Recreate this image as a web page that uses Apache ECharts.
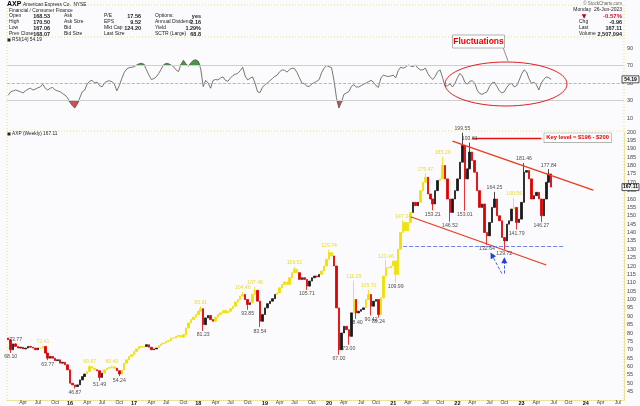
<!DOCTYPE html>
<html><head><meta charset="utf-8">
<script src="https://cdn.jsdelivr.net/npm/echarts/dist/echarts.min.js"></script>
<style>html,body{margin:0;padding:0;background:#fbfbfd}#c{width:640px;height:406px}</style>
</head><body><div id="c"></div>
<script>
// ---------- DATA (bi-weekly bars) ----------
const startDate = '2015-01-19';
const categoryCount = 250;
const monthNames = ['Jan','Feb','Mar','Apr','May','Jun','Jul','Aug','Sep','Oct','Nov','Dec'];
const close2015 = [76,70,73.5,72,71,71.5,70.5,71,72,71.5,71,70,71,71,72,68,65,66,65,63.5,64,62,62.5,61,58];
const close2016 = [50,49,48,49,52,54,55.5,57,60,59,58,57.5,53.5,56,58,59,59.5,59.8,59,57.5,55.5,58,62,64,66,67];
const close2017 = [69,70.5,72,71.5,72,73,71.5,70,70.5,71,72.5,73.5,74,75,75.5,77,77,78,78.5,77.5,79,83,86,88,89.5,91];
const close2018 = [93,94.5,85,89,90.5,88,87,89.5,91,92,93.5,92,93,94.5,96,98.5,100,102,103,100,97,98,103,105.5,99,87];
const close2019 = [91,95,97.5,99,100.5,103,104,107,109,110.5,109,113,116,118,116,112,113,112,108,111,113,114,113.5,115,117,120];
const close2020 = [124,128,126,120,95,70,80,84,82,78,92,100,92,93,94,95,100,103,96,99,100,91,101,114,119,119];
const close2021 = [120,123,115,130,140,146,141,146,152,158,156,158,165,170,173,163,160,157,165,171,172,180,172,160,152,160];
const close2022 = [165,172,182,192,172,178,188,183,176,165,155,157,140,138,146,155,160,150,147,137,135,145,147,154,155,146];
const close2023 = [148,158,176,177,172,160,162,164,160,150,160,170,175,167.11];
const firstOpen = 77;
// pivot labels: [bar index, price, High/Low]
const pivots = [
  [1,68.10,'L'],[3,73.77,'H'],[14,72.41,'H'],[16,63.77,'L'],[27,46.87,'L'],[33,60.67,'H'],[37,51.49,'L'],
  [42,60.40,'H'],[45,54.24,'L'],[78,95.91,'H'],[79,81.23,'L'],[95,104.46,'H'],[97,93.85,'L'],[100,107.46,'H'],
  [102,83.54,'L'],[116,119.52,'H'],[121,105.71,'L'],[130,129.74,'H'],[134,67.00,'L'],[138,73.00,'L'],
  [140,111.29,'H'],[141,88.40,'L'],[146,105.70,'H'],[147,90.42,'L'],[150,89.24,'L'],[153,123.46,'H'],
  [157,109.99,'L'],[160,147.34,'H'],[169,175.47,'H'],[172,153.21,'L'],[176,185.29,'H'],[179,146.52,'L'],
  [184,199.55,'H'],[185,153.01,'L'],[187,193.61,'H'],[194,132.64,'L'],[197,164.25,'H'],[201,129.72,'L'],
  [205,160.56,'H'],[206,141.79,'L'],[209,181.46,'H'],[216,146.27,'L'],[219,177.84,'H']
];
const rsi2015 = [36,40,41,42,41,40,38.6,41,43,44,42,43,44.5,45.5,48.5,44,42,44,45,42,41,40,38,36.3,33];
const rsi2016 = [28,24,21.4,26,33,40,42,49,52,53,50,51,47,45.5,50,52,52.5,51.5,49,41,47,55,62,66,67.5,68];
const rsi2017 = [68.6,70.5,72,72.5,71.5,65,59,54,55,57,61,66,71,72.5,72,70.5,68.6,65,63,71.5,76,72,69,73,76,76.5];
const rsi2018 = [75,66,46,53,50,44,53,54,53.5,55.7,57,53,52,55.5,58.5,60,61,64,68,58,53.5,55.5,57,50,40,39];
const rsi2019 = [45,48,50,52.5,55,57.5,59,63,65,64.5,62.5,65.5,67,66.5,62,56,50,49,46.5,46,49,50.5,52,54,62,67];
const rsi2020 = [70,68.6,67.5,53,33,21.4,28,37,38.6,40,46,48,45.5,45.4,47,48.5,50,51.5,53,51,47,45,55.7,59,58,57.5];
const rsi2021 = [58,59,56,64,68,67,68,70.5,69.5,68.6,70.5,67,65,65,67,61,57,54,57.5,63,65,56,46,47,49,45.5];
const rsi2022 = [49.5,56,61,58,51,48.5,52,52.5,50,42,38,37,38.6,40,46,50,51,46,41,38.6,40,45,48.5,49.5,45.5,47];
const rsi2023 = [53,60,65,62.6,55,49.5,51,48,42,50,54,57,56,54.19];
// annotations (bar index, price)
const upperChannel = [[180,194.6],[237,165.3]];
const lowerChannel = [[163,149.4],[218,120.6]];
const keyLevel = [[188,196.5],[216,196.5]];
const supportLine = [[160,131.9],[225,131.9]];
const arrowLines = [[[200,115.5],[196,126.5]],[[201,115.5],[201,123.5]]];
// bar ranges highlighted in yellow
const yellowRanges = [[13,14],[32,35],[39,43],[46,55],[61,78],[84,95],[99,100],[109,117],[127,131],[140,140],[145,146],[151,163],[167,169],[175,176],[205,205]];

// ---------- BUILD ----------
const FONT = '"Liberation Sans", Arial, sans-serif';
const YEL = '#f0e000', UP = '#1a1a1a', DN = '#e00000';
const categories = [];
const t0 = Date.parse(startDate + 'T00:00:00Z');
for (let k = 0; k < categoryCount; k++) categories.push(new Date(t0 + k * 14 * 86400000).toISOString().slice(0, 10));
const showTick = categories.map((c, i) => {
  const m = +c.slice(5, 7);
  if ((m - 1) % 3 !== 0 || i === 0) return false;
  return +categories[i - 1].slice(5, 7) !== m;
});
const closes = [].concat(close2015, close2016, close2017, close2018, close2019, close2020, close2021, close2022, close2023);
const rsi = [].concat(rsi2015, rsi2016, rsi2017, rsi2018, rsi2019, rsi2020, rsi2021, rsi2022, rsi2023);
const inYellow = k => yellowRanges.some(r => k >= r[0] && k <= r[1]);
const pivotMap = {}; pivots.forEach(p => pivotMap[p[0]] = p);
const candles = closes.map((c, k) => {
  const o = k === 0 ? firstOpen : closes[k - 1];
  let lo = Math.min(o, c), hi = Math.max(o, c);
  const p = pivotMap[k];
  if (p) { if (p[2] === 'H') hi = Math.max(hi, p[1]); else lo = Math.min(lo, p[1]); }
  const item = { value: [o, c, lo, hi] };
  if (inYellow(k)) item.itemStyle = { color: YEL, color0: YEL, borderColor: YEL, borderColor0: YEL };
  return item;
});
const pivotLabels = pivots.map(p => ({
  value: [p[0], p[1]],
  label: { position: p[2] === 'H' ? 'top' : 'bottom', color: (p[2] === 'H' && inYellow(p[0])) ? '#e6d400' : '#222' }
}));
const hiBase = rsi.map(() => 70), hiPart = rsi.map(v => Math.max(v, 70) - 70);
const loBase = rsi.map(v => Math.min(v, 30)), loPart = rsi.map(v => 30 - Math.min(v, 30));

const dotted = { color: '#ece070', type: 'dotted', width: 1 };
const pairLine = (pts, style, extra0, extra1) => [
  Object.assign({ coord: pts[0], lineStyle: style }, extra0 || {}),
  Object.assign({ coord: pts[1] }, extra1 || {})
];
const chStyle = { color: '#ee3a1a', width: 1.3, type: 'solid' };

const chart = echarts.init(document.getElementById('c'));
const option = {
  animation: false,
  backgroundColor: '#fbfbfd',
  textStyle: { fontFamily: FONT },
  grid: [
    { left: 7, right: 16, top: 132, bottom: 6, containLabel: false, outerBoundsMode: 'none' },
    { left: 7, right: 16, top: 48, height: 70, containLabel: false, outerBoundsMode: 'none' }
  ],
  xAxis: [
    { type: 'category', gridIndex: 0, data: categories, boundaryGap: true,
      axisLine: { show: true, lineStyle: dotted }, axisTick: { show: false }, splitLine: { show: false },
      axisLabel: { interval: (i) => showTick[i], margin: 0, fontSize: 5, color: '#444', fontFamily: FONT,
        formatter: (v) => { const m = +v.slice(5, 7); return m === 1 ? '{y|' + v.slice(2, 4) + '}' : monthNames[m - 1]; },
        rich: { y: { fontWeight: 'bold', color: '#111', fontSize: 5.5, fontFamily: FONT } } } },
    { type: 'category', gridIndex: 1, data: categories, boundaryGap: true, show: false }
  ],
  yAxis: [
    { type: 'value', gridIndex: 0, position: 'right', min: 40, max: 200, interval: 5, scale: false,
      axisLine: { show: true, lineStyle: dotted }, axisTick: { show: false }, splitLine: { show: false },
      axisLabel: { fontSize: 5.5, color: '#444', margin: 3, showMinLabel: false, fontFamily: FONT } },
    { type: 'value', gridIndex: 1, position: 'right', min: 10, max: 90, interval: 20,
      axisLine: { show: false }, axisTick: { show: false }, splitLine: { show: false },
      axisLabel: { fontSize: 5.5, color: '#444', margin: 3, fontFamily: FONT } }
  ],
  series: [
    { type: 'candlestick', xAxisIndex: 0, yAxisIndex: 0, data: candles, barWidth: 2,
      itemStyle: { color: UP, color0: DN, borderColor: UP, borderColor0: DN, borderWidth: 0.8 },
      markLine: { silent: true, symbol: ['none', 'none'], label: { show: false }, animation: false,
        data: [
          pairLine(upperChannel, chStyle),
          pairLine(lowerChannel, chStyle),
          pairLine(keyLevel, { color: '#e81010', width: 1.3, type: 'solid' }, {}, {
            label: { show: true, position: 'end', distance: 3, formatter: 'Key level = $196 - $200',
              color: '#e80000', fontWeight: 'bold', fontSize: 5.8, fontFamily: FONT,
              backgroundColor: '#ffffff', borderColor: '#9a9a9a', borderWidth: 0.6, padding: [1.5, 2] } }),
          pairLine(supportLine, { color: '#7084f0', width: 1, type: 'dashed' }),
          pairLine(arrowLines[0], { color: '#2040d8', width: 0.8, type: 'dashed' }, { symbol: 'none' }, { symbol: 'triangle', symbolSize: 6 }),
          pairLine(arrowLines[1], { color: '#2040d8', width: 0.8, type: 'dashed' }, { symbol: 'none' }, { symbol: 'triangle', symbolSize: 6 })
        ] } },
    { type: 'scatter', xAxisIndex: 0, yAxisIndex: 0, data: pivotLabels, symbolSize: 1, silent: true, z: 5,
      itemStyle: { color: 'rgba(0,0,0,0)' },
      labelLayout: { hideOverlap: false },
      label: { show: true, fontSize: 5.2, distance: 1, fontFamily: FONT, formatter: (p) => p.value[1].toFixed(2) } },
    { type: 'line', xAxisIndex: 1, yAxisIndex: 1, data: hiBase, stack: 'hi', symbol: 'none', silent: true, lineStyle: { opacity: 0 } },
    { type: 'line', xAxisIndex: 1, yAxisIndex: 1, data: hiPart, stack: 'hi', symbol: 'none', silent: true, lineStyle: { opacity: 0 },
      areaStyle: { color: '#3f8f3f', opacity: 0.95 } },
    { type: 'line', xAxisIndex: 1, yAxisIndex: 1, data: loBase, stack: 'lo', symbol: 'none', silent: true, lineStyle: { opacity: 0 } },
    { type: 'line', xAxisIndex: 1, yAxisIndex: 1, data: loPart, stack: 'lo', symbol: 'none', silent: true, lineStyle: { opacity: 0 },
      areaStyle: { color: '#c84848', opacity: 0.95 } },
    { type: 'line', xAxisIndex: 1, yAxisIndex: 1, data: rsi, symbol: 'none', silent: true,
      lineStyle: { color: '#555548', width: 0.8 },
      markLine: { silent: true, symbol: ['none', 'none'], label: { show: false }, animation: false,
        data: [
          { yAxis: 70, lineStyle: { color: '#c8c8c8', width: 1, type: 'solid' } },
          { yAxis: 30, lineStyle: { color: '#c8c8c8', width: 1, type: 'solid' } },
          { yAxis: 70, lineStyle: { color: '#ece060', width: 1, type: 'dotted' } },
          { yAxis: 30, lineStyle: { color: '#ece060', width: 1, type: 'dotted' } },
          { yAxis: 50, lineStyle: { color: '#a8a8a8', width: 0.8, type: 'dashed' } }
        ] } }
  ]
};
chart.setOption(option);

// ---------- static graphics (header, panel borders, annotations) ----------
const txt = (text, x, y, o, z) => ({ type: 'text', silent: true, z: z || 100,
  style: Object.assign({ text, x, y, fill: '#222', font: '5px ' + FONT, textVerticalAlign: 'middle', textAlign: 'left' }, o || {}) });
const dline = (x1, y1, x2, y2) => ({ type: 'line', silent: true, z: 1,
  shape: { x1, y1, x2, y2 }, style: { stroke: '#ece070', lineWidth: 1, lineDash: [1, 2] } });
const B = 'bold 5.5px ' + FONT;
const g = [
  dline(7, 5, 624, 5), dline(7, 37, 624, 37), dline(7, 131, 624, 131),
  dline(7, 5, 7, 400), dline(624, 5, 624, 400),
  txt('AXP', 7, 4.5, { font: 'bold 7px ' + FONT, fill: '#000' }),
  txt('American Express Co.  NYSE', 23, 4.5, { font: '4.8px ' + FONT }),
  txt('Financial / Consumer Finance', 9, 10.5, { font: '4.8px ' + FONT }),
  txt('Open', 9, 16), txt('High', 9, 22), txt('Low', 9, 28), txt('Prev Close', 9, 34),
  txt('168.53', 50, 16, { font: B, textAlign: 'right' }), txt('170.50', 50, 22, { font: B, textAlign: 'right' }),
  txt('167.06', 50, 28, { font: B, textAlign: 'right' }), txt('168.07', 50, 34, { font: B, textAlign: 'right' }),
  txt('Ask', 64, 16), txt('Ask Size', 64, 22), txt('Bid', 64, 28), txt('Bid Size', 64, 34),
  txt('P/E', 104, 16), txt('EPS', 104, 22), txt('Mkt Cap', 104, 28), txt('Last Size', 104, 34),
  txt('17.56', 141, 16, { font: B, textAlign: 'right' }), txt('9.52', 141, 22, { font: B, textAlign: 'right' }),
  txt('124.20', 141, 28, { font: B, textAlign: 'right' }),
  txt('Options:', 155, 16), txt('Annual Dividend', 155, 22), txt('Yield', 155, 28), txt('SCTR (Large)', 155, 34),
  txt('yes', 201, 16, { font: B, textAlign: 'right' }), txt('2.16', 201, 22, { font: B, textAlign: 'right' }),
  txt('1.29%', 201, 28, { font: B, textAlign: 'right' }), txt('68.8', 201, 34, { font: B, textAlign: 'right' }),
  txt('© StockCharts.com', 622, 4, { font: '4.5px ' + FONT, fill: '#666', textAlign: 'right' }),
  txt('Monday  26-Jun-2023', 622, 10, { textAlign: 'right' }),
  txt('▼', 584, 16, { font: '6px "DejaVu Sans"', fill: '#b00020', textAlign: 'center' }),
  txt('-0.57%', 622, 16, { font: 'bold 6px ' + FONT, fill: '#d01030', textAlign: 'right' }),
  txt('Chg', 579, 22), txt('Last', 579, 28), txt('Volume', 579, 34),
  txt('-0.96', 622, 22, { font: B, textAlign: 'right' }), txt('167.11', 622, 28, { font: B, textAlign: 'right' }),
  txt('2,507,094', 622, 34, { font: B, textAlign: 'right' }),
  { type: 'rect', silent: true, z: 100, shape: { x: 7.5, y: 38.5, width: 3, height: 3 }, style: { fill: '#222' } },
  txt('RSI(14) 54.19', 12, 40, { font: '4.8px ' + FONT }),
  { type: 'rect', silent: true, z: 100, shape: { x: 7.5, y: 132.5, width: 3, height: 3 }, style: { fill: '#222' } },
  txt('AXP (Weekly) 167.11', 12, 134, { font: '4.8px ' + FONT }),
  { type: 'ellipse', silent: true, z: 100, shape: { cx: 506, cy: 84, rx: 61, ry: 22 }, style: { fill: 'none', stroke: '#e02020', lineWidth: 1 } },
  { type: 'polyline', silent: true, z: 100, shape: { points: [[503, 47.5], [508, 61]] }, style: { stroke: '#777', lineWidth: 0.8, fill: 'none' } },
  { type: 'rect', silent: true, z: 100, shape: { x: 452.5, y: 35, width: 52, height: 13 }, style: { fill: '#fff', stroke: '#a0a0a0', lineWidth: 0.8 } },
  txt('Fluctuations', 478.5, 41.8, { font: 'bold 8.5px ' + FONT, fill: '#ee0000', textAlign: 'center' }, 101)
];
// last-value boxes placed through the library's scales
const pLast = chart.convertToPixel({ xAxisIndex: 0, yAxisIndex: 0 }, [closes.length - 1, closes[closes.length - 1]]);
const rLast = chart.convertToPixel({ xAxisIndex: 1, yAxisIndex: 1 }, [rsi.length - 1, rsi[rsi.length - 1]]);
[[pLast[1], closes[closes.length - 1].toFixed(2)], [rLast[1], rsi[rsi.length - 1].toFixed(2)]].forEach(([y, t]) => {
  g.push({ type: 'rect', silent: true, z: 110, shape: { x: 622, y: y - 3.5, width: 17, height: 7 }, style: { fill: '#f4f4f4', stroke: '#111', lineWidth: 0.7 } });
  g.push(txt(t, 630.5, y, { font: 'bold 5px ' + FONT, fill: '#000', textAlign: 'center' }, 120));
});
chart.setOption({ graphic: g });
</script>
</body></html>
